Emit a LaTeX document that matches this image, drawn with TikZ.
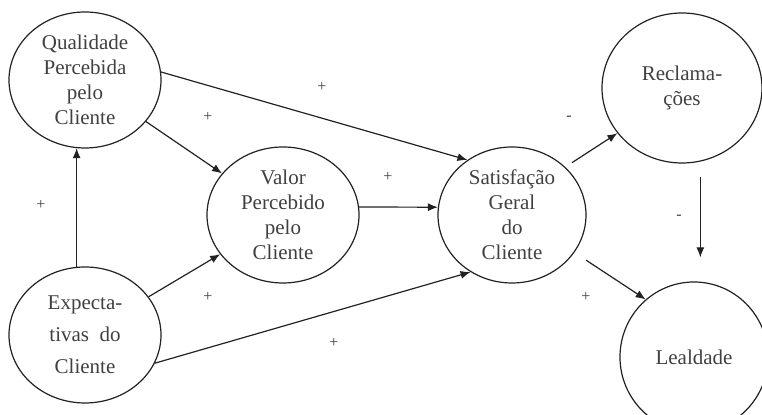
\documentclass[tikz,border=0pt]{standalone}
\usepackage{fontspec}
\setmainfont{Liberation Serif}
\usetikzlibrary{%
  arrows.meta,%
  shapes.geometric,% wg. ellipse
  positioning%
}
\definecolor{txtgray}{HTML}{404040}
\definecolor{linegray}{HTML}{222222}
\tikzset{
  construct/.style={draw=linegray, ellipse, line width=0.6pt, inner sep=0pt, align=center, text=txtgray, font=\fontsize{10.5}{12.5}\selectfont},
  link/.style={-{Latex[length=5pt,width=4pt]}, draw=linegray, line width=0.6pt},
  sign/.style={text=txtgray, font=\fontsize{8}{9}\selectfont, inner sep=0pt}
}

\begin{document}
\begin{tikzpicture}[x=0.5pt,y=-0.5pt]
\useasboundingbox (0,0) rectangle (762,415);

%Constructs (ellipses)
\node[construct, minimum width=76pt, minimum height=68pt] (qual) at (85,80) {Qualidade\\Percebida\\pelo\\Cliente};
\node[construct, minimum width=76pt, minimum height=68pt] (valor) at (283,215) {Valor\\Percebido\\pelo\\Cliente};
\node[construct, minimum width=76pt, minimum height=68pt] (expect) at (85,335) {Expecta-\\[3.5pt]tivas~~do\\[3.5pt]Cliente};
\node[construct, minimum width=74pt, minimum height=68pt] (satisf) at (512,215) {Satisfação\\Geral\\do\\Cliente};
\node[construct, minimum width=80pt, minimum height=75pt] (recl) at (682,88) {Reclama-\\ções};
\node[construct, minimum width=74pt, minimum height=75pt] (leal) at (694,357) {Lealdade};

% Links into Valor and Satisfacao
\draw[link] (qual) -- (valor);
\draw[link] (qual.6) -- (satisf.129);
\draw[link] (expect.97) -- (qual.263);
\draw[link] (expect.31) -- (valor.212);
\draw[link] (expect.-22) -- (satisf.234);
\draw[link] (valor.6) -- (satisf.174);

% Links out of Satisfacao
\draw[link, shorten <=4pt] (satisf.42) -- (recl.215);
\draw[link, shorten <=7pt] (satisf.-31) -- (leal.130);
\draw[link, shorten <=7.5pt, shorten >=12pt] (recl.-76) -- (recl.-76 |- leal.north);

% Signs
\node[sign] (sQS) at (322,87) {+};
\node[sign] (sQV) at (208,117) {+};
\node[sign] (sEQ) at (41,205) {+};
\node[sign] (sVS) at (388,177) {+};
\node[sign] (sEV) at (208,297) {+};
\node[sign] (sES) at (334,343) {+};
\node[sign] (sSR) at (569,118) {-};
\node[sign] (sRL) at (679,217) {-};
\node[sign] (sSL) at (586,297) {+};
\end{tikzpicture}
\end{document}
